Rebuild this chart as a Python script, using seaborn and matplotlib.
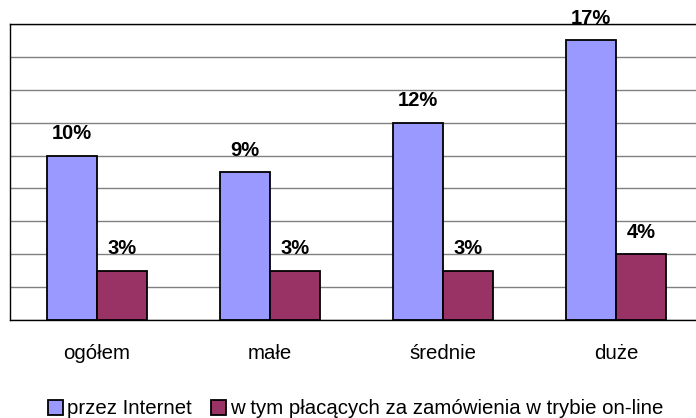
import matplotlib
matplotlib.use("Agg")
import matplotlib.pyplot as plt
import seaborn as sns
import pandas as pd

categories = ["ogółem", "małe", "średnie", "duże"]
series_names = ["przez Internet", "w tym płacących za zamówienia w trybie on-line"]
internet = [10, 9, 12, 17]
online_pay = [3, 3, 3, 4]
colors = ["#9999FF", "#993366"]

df = pd.DataFrame({
    "cat": categories * 2,
    "val": internet + online_pay,
    "series": [series_names[0]] * 4 + [series_names[1]] * 4,
})

sns.set_theme(style="white")
plt.rcParams["font.family"] = ["Liberation Sans", "DejaVu Sans"]
plt.rcParams["text.color"] = "black"
plt.rcParams["xtick.color"] = "black"
plt.rcParams["xtick.labelcolor"] = "black"

fig = plt.figure(figsize=(6.96, 4.18), dpi=100)
ax = fig.add_axes([10 / 696, 98 / 418, 692.5 / 696, 296 / 418])

sns.barplot(data=df, x="cat", y="val", hue="series", order=categories,
            hue_order=series_names, palette=colors, edgecolor="black",
            linewidth=1.3, width=0.578, gap=0, saturation=1, ax=ax)

ax.set_xlim(-0.5, 3.5)
ax.set_ylim(0, 18)
ax.set_yticks(range(0, 19, 2))
ax.set_yticklabels([])
ax.yaxis.grid(True, color="#808080", linewidth=1.0)
ax.set_axisbelow(True)
ax.tick_params(axis="both", length=0)
ax.tick_params(axis="x", labelsize=14.7, pad=17, labelcolor="black")
ax.set_xlabel("")
ax.set_ylabel("")
for s in ["left", "bottom", "top"]:
    ax.spines[s].set_visible(True)
    ax.spines[s].set_color("black")
    ax.spines[s].set_linewidth(1.0)
ax.spines["right"].set_visible(False)

for cont in ax.containers:
    ax.bar_label(cont, labels=[f"{int(v)}%" for v in cont.datavalues],
                 padding=9, fontsize=14.5, fontweight="bold", color="black")

handles, labels = ax.get_legend_handles_labels()
ax.legend_.remove()
leg = fig.legend(handles, labels, loc="lower center", bbox_to_anchor=(0.511, -0.045),
                 ncol=2, frameon=False, fontsize=14.7, handlelength=0.75,
                 handleheight=0.75, handletextpad=0.2, columnspacing=0.9)
for t in leg.get_texts():
    t.set_color("black")

fig.savefig("out.png", dpi=100)
